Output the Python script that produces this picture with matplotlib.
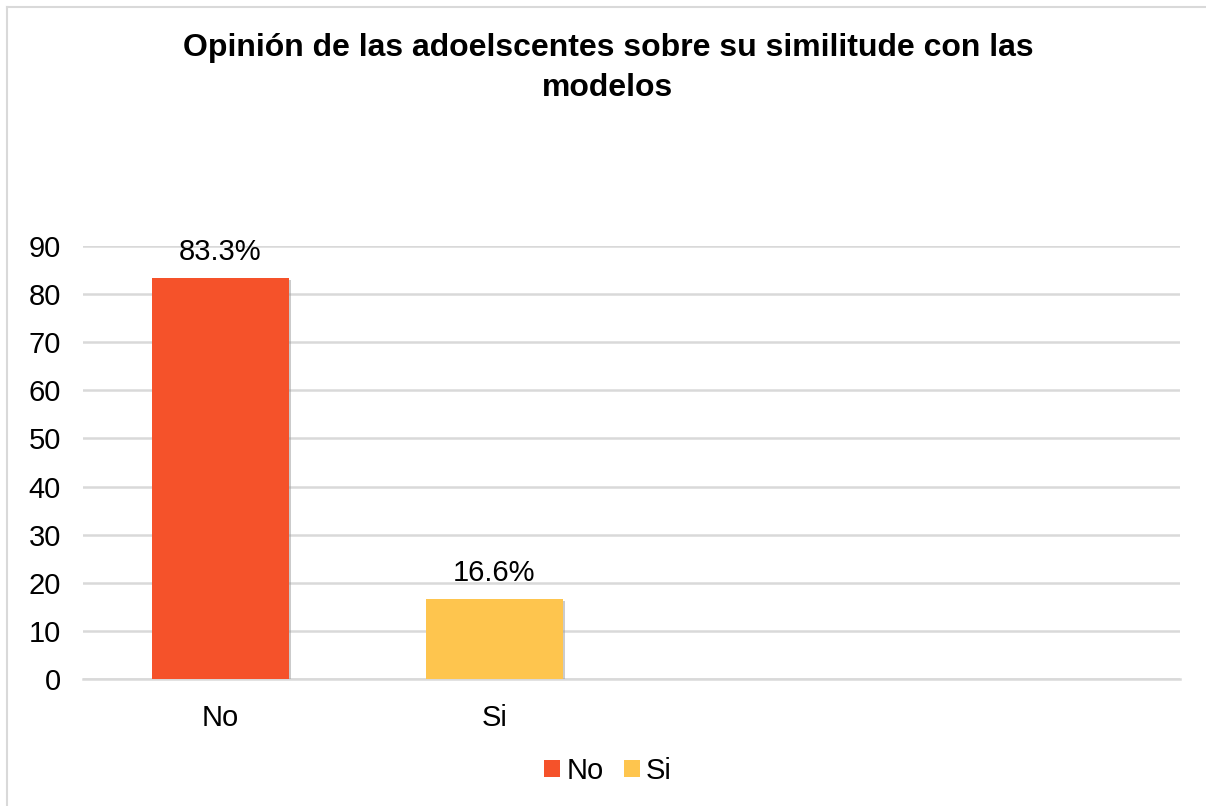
import matplotlib
matplotlib.use("Agg")
import matplotlib.pyplot as plt
from matplotlib.patches import Patch
import matplotlib.patheffects as pe

plt.rcParams['font.family'] = ['Liberation Sans', 'DejaVu Sans']

categories = ["No", "Si", "", ""]
values = [83.3, 16.6]
labels = ["83.3%", "16.6%"]
colors = ["#F5522A", "#FEC54E"]
yticks = [0, 10, 20, 30, 40, 50, 60, 70, 80, 90]
title = "Opinión de las adoelscentes sobre su similitude con las\nmodelos"

fig = plt.figure(figsize=(12.06, 8.06), dpi=100)
ax = fig.add_axes([83/1206, 1-679/806, (1180-83)/1206, (679-246)/806])

x = list(range(len(values)))
bars = ax.bar(x, values, width=0.5, color=colors, zorder=3,
              path_effects=[pe.SimplePatchShadow(offset=(1.5, -1.5), shadow_rgbFace='#999999', alpha=0.5), pe.Normal()])
for xi, v, lab in zip(x, values, labels):
    ax.annotate(lab, (xi, v), xytext=(0, 9), textcoords='offset points',
                ha='center', va='bottom', fontsize=21, color='#000000')

ax.set_xlim(-0.5, len(categories) - 0.5)
ax.set_ylim(0, 90)
ax.set_xticks(range(len(categories)))
ax.set_xticklabels(categories, fontsize=21)
ax.set_yticks(yticks)
ax.set_yticklabels([str(t) for t in yticks], fontsize=21)
ax.tick_params(length=0, pad=16)
ax.tick_params(axis='x', pad=18)
ax.grid(axis='y', color='#D9D9D9', linewidth=1.8, zorder=0)
ax.set_axisbelow(True)
for s in ['top', 'right', 'left']:
    ax.spines[s].set_visible(False)
ax.spines['bottom'].set_color('#D9D9D9')
ax.spines['bottom'].set_linewidth(1.8)

fig.text(608/1206, 1-68/806, title, ha='center', va='center', fontsize=23,
         fontweight='bold', linespacing=1.4)

handles = [Patch(facecolor=c, edgecolor='none') for c in colors]
fig.legend(handles, categories[:2], loc='center', bbox_to_anchor=(608/1206, 1-771/806),
           ncol=2, frameon=False, fontsize=21, handlelength=0.55, handleheight=0.55,
           handletextpad=0.2, columnspacing=0.7)

# outer frame
fig.add_artist(plt.Line2D([7/1206, 7/1206], [0, 1-7/806], color='#D9D9D9', linewidth=1.5, transform=fig.transFigure))
fig.add_artist(plt.Line2D([7/1206, 1], [1-7/806, 1-7/806], color='#D9D9D9', linewidth=1.5, transform=fig.transFigure))

fig.savefig("out.png", dpi=100)
